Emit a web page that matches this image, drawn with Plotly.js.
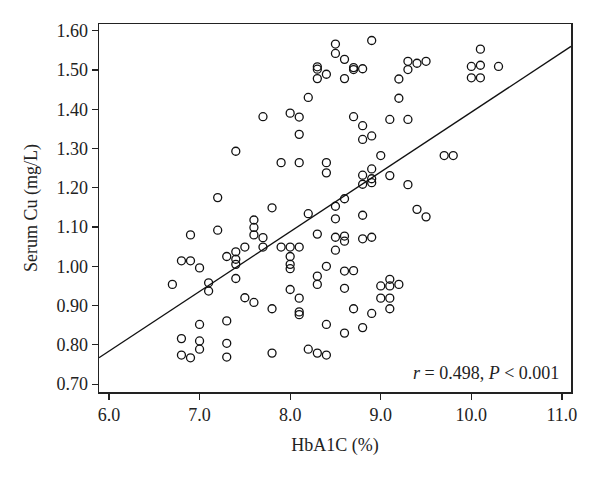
<!DOCTYPE html>
<html>
<head>
<meta charset="utf-8">
<script src="https://cdn.plot.ly/plotly-3.0.1.min.js"></script>
<style>html,body{margin:0;padding:0;background:#fff;}#chart{width:600px;height:478px;}</style>
</head>
<body>
<div id="chart"></div>
<script>
// HbA1C (%) values
const hba1c = [
  8.5, 8.9, 8.5, 8.6, 8.3, 8.3, 8.4, 8.3, 8.7, 8.7, 8.8, 8.6, 8.2, 7.7, 8.0, 8.1, 8.1, 8.7, 8.8, 8.8,
  8.9, 9.1, 9.3, 9.3, 9.4, 9.5, 9.3, 9.2, 9.2, 10.1, 10.0, 10.1, 10.3, 10.0, 10.1, 7.4, 7.2, 7.2, 6.9, 7.6,
  7.6, 7.6, 7.5, 7.4, 7.3, 7.4, 7.4, 6.8, 6.9, 7.0, 7.9, 8.1, 8.4, 8.4, 9.0, 8.9, 8.8, 8.9, 8.9, 8.8,
  9.1, 9.3, 9.4, 8.6, 8.5, 7.8, 8.2, 8.5, 8.8, 7.7, 7.7, 8.3, 8.5, 8.6, 8.6, 8.8, 8.9, 8.5, 7.9, 8.0,
  8.1, 8.0, 8.0, 8.0, 8.4, 8.6, 8.7, 9.7, 9.8, 9.5, 6.7, 7.1, 7.1, 7.4, 7.5, 7.6, 7.0, 7.3, 6.8, 7.0,
  7.0, 7.3, 6.8, 6.9, 7.3, 8.3, 8.3, 8.6, 8.0, 8.1, 7.8, 8.1, 8.1, 8.4, 8.7, 8.9, 8.8, 8.6, 9.0, 9.1,
  9.2, 9.1, 9.0, 9.1, 9.1, 7.8, 8.2, 8.3, 8.4
];
// Serum Cu (mg/L) values
const serumCu = [
  1.566, 1.575, 1.542, 1.527, 1.508, 1.502, 1.489, 1.478, 1.506, 1.501, 1.503, 1.478, 1.430, 1.381, 1.390, 1.380, 1.336, 1.381, 1.358, 1.323,
  1.332, 1.374, 1.374, 1.522, 1.517, 1.522, 1.501, 1.477, 1.428, 1.553, 1.509, 1.512, 1.509, 1.480, 1.480, 1.293, 1.175, 1.092, 1.080, 1.118,
  1.099, 1.080, 1.049, 1.037, 1.025, 1.018, 1.005, 1.014, 1.014, 0.996, 1.264, 1.264, 1.264, 1.238, 1.282, 1.248, 1.232, 1.223, 1.213, 1.209,
  1.231, 1.208, 1.145, 1.172, 1.153, 1.149, 1.134, 1.121, 1.130, 1.073, 1.049, 1.082, 1.074, 1.077, 1.064, 1.070, 1.074, 1.041, 1.049, 1.049,
  1.049, 1.025, 1.005, 0.994, 1.000, 0.988, 0.989, 1.282, 1.282, 1.126, 0.954, 0.958, 0.937, 0.969, 0.920, 0.908, 0.852, 0.861, 0.816, 0.810,
  0.789, 0.804, 0.774, 0.767, 0.769, 0.975, 0.954, 0.944, 0.941, 0.919, 0.892, 0.884, 0.877, 0.852, 0.892, 0.880, 0.844, 0.830, 0.950, 0.967,
  0.954, 0.950, 0.919, 0.919, 0.892, 0.779, 0.789, 0.779, 0.774
];
// Regression line endpoints
const fitX = [5.89, 11.10];
const fitY = [0.767, 1.56];
// Tick labels
const xTickVals = [6, 7, 8, 9, 10, 11];
const xTickText = ["6.0", "7.0", "8.0", "9.0", "10.0", "11.0"];
const yTickVals = [0.7, 0.8, 0.9, 1.0, 1.1, 1.2, 1.3, 1.4, 1.5, 1.6];
const yTickText = ["0.70", "0.80", "0.90", "1.00", "1.10", "1.20", "1.30", "1.40", "1.50", "1.60"];

const serif = "Liberation Serif, DejaVu Serif, serif";

const traces = [
  {
    x: hba1c, y: serumCu, type: "scatter", mode: "markers",
    marker: {symbol: "circle-open", size: 8, color: "#111", line: {width: 1.3, color: "#111"}},
    hoverinfo: "x+y", showlegend: false
  },
  {
    x: fitX, y: fitY, type: "scatter", mode: "lines",
    line: {color: "#111", width: 1.3}, hoverinfo: "skip", showlegend: false
  }
];

const axisCommon = {
  showgrid: false, zeroline: false, showline: true, mirror: true,
  linecolor: "#222", linewidth: 1.5, ticks: "outside", ticklen: 6, tickwidth: 1.2, tickcolor: "#222",
  tickfont: {family: serif, size: 18, color: "#222"}, automargin: false
};

const layout = {
  width: 600, height: 478,
  margin: {l: 99, r: 29, t: 24, b: 86},
  paper_bgcolor: "#fff", plot_bgcolor: "#fff",
  xaxis: Object.assign({}, axisCommon, {
    range: [5.89, 11.10], tickvals: xTickVals, ticktext: xTickText,
    title: {text: "HbA1C (%)", font: {family: serif, size: 18, color: "#222"}, standoff: 14}
  }),
  yaxis: Object.assign({}, axisCommon, {
    range: [0.68, 1.617], tickvals: yTickVals, ticktext: yTickText,
    title: {text: "Serum Cu (mg/L)", font: {family: serif, size: 18, color: "#222"}, standoff: 14}
  }),
  annotations: [{
    xref: "paper", yref: "paper", x: 0.978, y: 0.052, xanchor: "right", yanchor: "middle",
    text: "<i>r</i> = 0.498, <i>P</i> &lt; 0.001", showarrow: false,
    font: {family: serif, size: 18, color: "#222"}
  }]
};

Plotly.newPlot("chart", traces, layout, {displayModeBar: false, staticPlot: true});
</script>
</body>
</html>
